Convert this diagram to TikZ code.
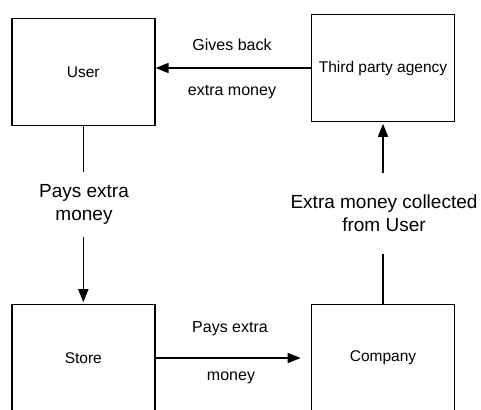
\documentclass[tikz,border=0pt]{standalone}
\usepackage{fontspec}
\setmainfont{Liberation Sans}
\usetikzlibrary{arrows.meta}
\begin{document}
\begin{tikzpicture}[x=1pt,y=-1pt,
  box/.style={draw=black,line width=1.6pt,minimum width=143pt,minimum height=107pt,inner sep=0pt,font=\fontsize{15.5}{18}\selectfont},
  lbl/.style={inner sep=0pt,font=\fontsize{16}{19}\selectfont},
  biglbl/.style={inner sep=0pt,align=center,font=\fontsize{19}{23}\selectfont},
  conn/.style={line width=1.6pt,draw=black},
  arr/.style={conn,-{Triangle[length=13pt,width=10pt]}}]
\useasboundingbox (0,0) rectangle (481,409);
\node[box] (user) at (83.3,72) {User};
\node[box] (tp) at (383,68) {Third party agency};
\node[box] (store) at (83.3,358) {Store};
\node[box] (comp) at (383,358) {Company};
% labels
\node[lbl] (gb) at (232,45) {Gives back};
\node[lbl] (em) at (232,92) {extra money};
\node[lbl] (pe) at (230,329) {Pays extra};
\node[lbl] (mo) at (231,378) {money};
\node[biglbl,minimum height=65pt] (pl) at (84,204.5) {Pays extra\\money};
\node[biglbl,minimum height=81pt] (cl) at (384,213.3) {Extra money collected\\from User};
% connectors
\draw[arr] (tp.west) -- (tp.west -| user.east);
\draw[conn] (user.south) -- (user.south |- pl.north);
\draw[arr,shorten >=1.5pt] (user.south |- pl.south) -- (store.north);
\draw[conn] (comp.north) -- (comp.north |- cl.south);
\draw[arr,shorten >=1.5pt] (comp.north |- cl.north) -- (tp.south);
\draw[arr,shorten >=10pt] (store.east) -- (comp.west);
\end{tikzpicture}
\end{document}
